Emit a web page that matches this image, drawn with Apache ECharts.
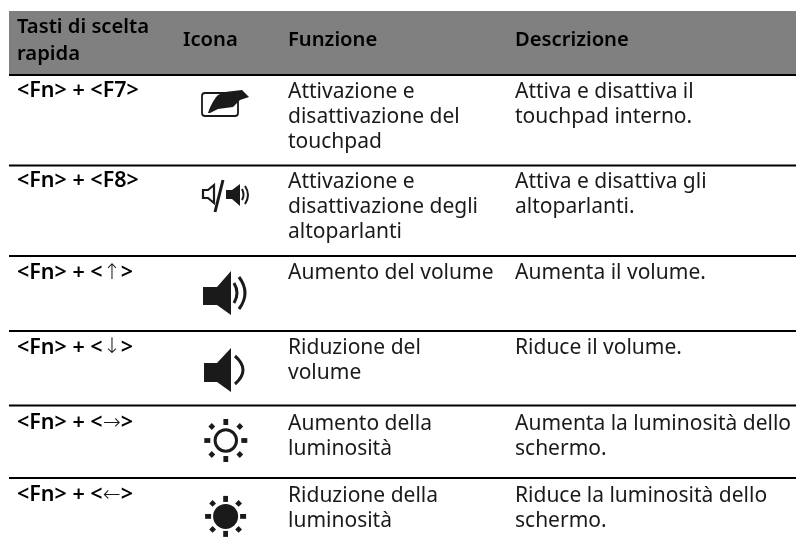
<!DOCTYPE html>
<html><head><meta charset="utf-8">
<style>html,body{margin:0;padding:0;background:#fff}#c{width:796px;height:551px}</style>
<script src="https://cdn.jsdelivr.net/npm/echarts@6/dist/echarts.min.js"></script>
</head><body><div id="c"></div>
<script>
var headers = [["Tasti di scelta","rapida"],["Icona"],["Funzione"],["Descrizione"]];
var hotkeys = [["<Fn> + <","F7",">"],["<Fn> + <","F8",">"],["<Fn> + <","↑",">"],["<Fn> + <","↓",">"],["<Fn> + <","→",">"],["<Fn> + <","←",">"]];
var icons = ["touchpad","speakerToggle","volumeUp","volumeDown","sunLight","sunDark"];
var functions = [
 ["Attivazione e","disattivazione del","touchpad"],
 ["Attivazione e","disattivazione degli","altoparlanti"],
 ["Aumento del volume"],
 ["Riduzione del","volume"],
 ["Aumento della","luminosità"],
 ["Riduzione della","luminosità"]];
var descriptions = [
 ["Attiva e disattiva il","touchpad interno."],
 ["Attiva e disattiva gli","altoparlanti."],
 ["Aumenta il volume."],
 ["Riduce il volume."],
 ["Aumenta la luminosità dello","schermo."],
 ["Riduce la luminosità dello","schermo."]];

// layout (axis units = px)
var colX = [17, 183, 288, 515];
var ruleY = [75, 165.5, 256, 331, 405.5, 478];
var firstLineY = [90.5, 180.5, 273, 347.5, 423, 495];
var textShift = [1.2, 1.2, 0, 0.6, 0.6, 0.6];
var iconC = [[225,103],[225,195],[224,293],[224,370],[225.8,440.5],[225.6,516.4]];
var lineH = 25.4;
var FONT = '"Noto Sans"';
var SIZE = 21, HEAD_SIZE = 20.2, KEY_SIZE = 21.5;
var INK = '#1a1a1a';

var iconDefs = {
 touchpad:[
  {d:'M-20,-10 L10,-10 Q13,-10 13,-7 L13,10 Q13,13 10,13 L-20,13 Q-23,13 -23,10 L-23,-7 Q-23,-10 -20,-10 Z',stroke:1.8},
  {d:'M-17,10 C-14,1 -10,-5 -7,-8 L0,-11 L17,-13 L21,-9 L24,-6 L15,-3 L8,4 L-7,6 L-15,10 Z',fill:1}],
 speakerToggle:[
  {d:'M-22,-5 L-17,-5 L-11,-10 L-11,8 L-17,3 L-22,3 Z',stroke:2.2},
  {d:'M-2,-15 L-10,17',stroke:3},
  {d:'M1,-5 L7,-5 L15,-11 L15,11 L7,4 L1,4 Z',fill:1},
  {d:'M17,-6 Q20,0 17,5',stroke:2},
  {d:'M20,-9 Q26,0 20,9',stroke:2}],
 volumeUp:[
  {d:'M-21,-6 L-7,-6 L7,-22 L7,22 L-7,12 L-21,12 Z',fill:1},
  {d:'M10,-10 Q16,0 10,10',stroke:3},
  {d:'M15,-16 Q27,0 15,16',stroke:3}],
 volumeDown:[
  {d:'M-20,-7 L-7,-7 L7,-22 L7,22 L-7,12 L-20,12 Z',fill:1},
  {d:'M11,-14 Q27,0 11,14',stroke:3}]
};
function iconEls(kind){
 var out=[];
 if(kind==='sunLight'||kind==='sunDark'){
  var dark=kind==='sunDark', R=dark?17.5:18.5, D=dark?13:14;
  out.push({type:'circle',shape:{cx:0,cy:0,r:dark?12.5:10.7},style:dark?{fill:INK}:{fill:'none',stroke:INK,lineWidth:3}});
  [[0,-R],[0,R],[-R,0],[R,0]].forEach(function(p){
   out.push({type:'rect',shape:{x:p[0]-(p[0]?3:2.4),y:p[1]-(p[1]?3:2.4),width:p[0]?6:4.8,height:p[1]?6:4.8},style:{fill:INK}});
  });
  [[-D,-D],[D,-D],[-D,D],[D,D]].forEach(function(p){
   out.push({type:'polygon',shape:{points:[[p[0],p[1]-3.4],[p[0]+3.4,p[1]],[p[0],p[1]+3.4],[p[0]-3.4,p[1]]]},style:{fill:INK}});
  });
 } else {
  iconDefs[kind].forEach(function(e){
   out.push({type:'path',shape:{pathData:e.d},style:e.fill?{fill:INK}:{fill:'none',stroke:INK,lineWidth:e.stroke,lineCap:'butt'}});
  });
 }
 return out;
}
function textEl(api,x,y,txt,bold){
 var p=api.coord([x,y]);
 return {type:'text',x:p[0],y:p[1],style:{text:txt,fill:bold?'#000':INK,fontFamily:FONT,fontSize:bold?HEAD_SIZE:SIZE,fontWeight:bold?600:400,verticalAlign:'middle',align:'left'}};
}
function renderItem(params,api){
 var i=api.value(0), ch=[];
 if(i<0){
  var tl=api.coord([9,11]),br=api.coord([796,74]);
  ch.push({type:'rect',shape:{x:tl[0],y:tl[1],width:br[0]-tl[0],height:br[1]-tl[1]},style:{fill:'#808080'}});
  headers.forEach(function(h,c){
   var y0=h.length>1?27:40;
   h.forEach(function(t,k){ch.push(textEl(api,colX[c],y0+k*27,t,true));});
  });
  return {type:'group',children:ch};
 }
 var a=api.coord([9,ruleY[i]]),b=api.coord([796,ruleY[i]]);
 ch.push({type:'line',shape:{x1:a[0],y1:a[1],x2:b[0],y2:b[1]},style:{stroke:'#000',lineWidth:2}});
 var hk=hotkeys[i], isArrow=hk[1].length===1, p=api.coord([colX[0],firstLineY[i]]);
 ch.push({type:'text',x:p[0],y:p[1],style:{
   text:'{b|'+hk[0]+'}{'+(isArrow?'a':'b')+'|'+hk[1]+'}{b|'+hk[2]+'}',
   verticalAlign:'middle',align:'left',
   rich:{b:{fontFamily:FONT,fontSize:KEY_SIZE,fontWeight:600,fill:'#000',color:'#000'},
         a:{fontFamily:'"DejaVu Sans"',fontSize:KEY_SIZE,fontWeight:200,fill:INK,color:INK}}}});
 var ty=firstLineY[i]+textShift[i];
 functions[i].forEach(function(t,k){ch.push(textEl(api,colX[2],ty+k*lineH,t,false));});
 descriptions[i].forEach(function(t,k){ch.push(textEl(api,colX[3],ty+k*lineH,t,false));});
 var c=api.coord(iconC[i]);
 ch.push({type:'group',x:c[0],y:c[1],children:iconEls(icons[i])});
 return {type:'group',children:ch};
}
var rows=[-1].concat(hotkeys.map(function(_,i){return i;}));
var chart=echarts.init(document.getElementById('c'),null,{renderer:'canvas'});
chart.setOption({
 animation:false,
 grid:{left:0,right:0,top:0,bottom:0},
 xAxis:{type:'value',min:0,max:796,show:false},
 yAxis:{type:'value',min:0,max:551,inverse:true,show:false},
 series:[{type:'custom',coordinateSystem:'cartesian2d',clip:false,silent:true,renderItem:renderItem,
   encode:{x:0},data:rows.map(function(r){return [r];})}]
});
</script></body></html>
